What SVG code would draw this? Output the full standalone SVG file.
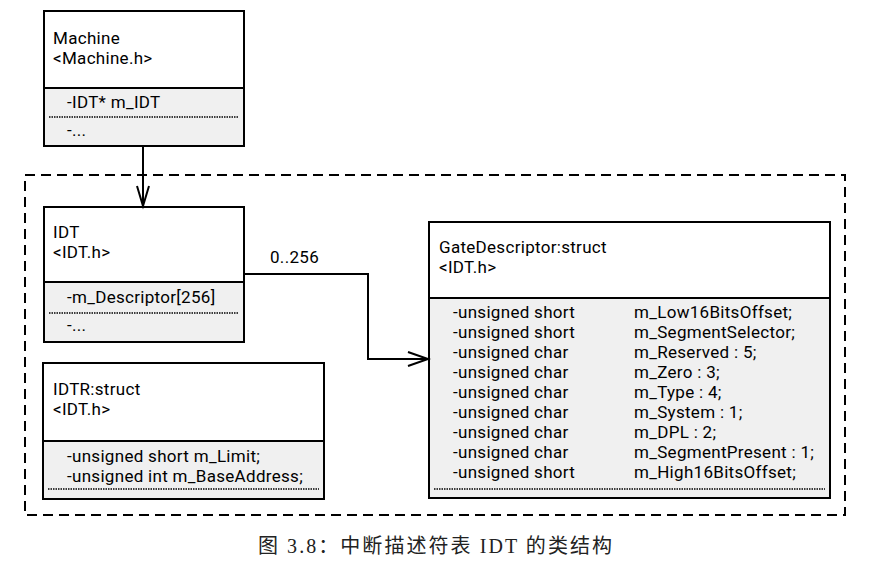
<svg xmlns="http://www.w3.org/2000/svg" width="889" height="568" viewBox="0 0 889 568">
<defs>
<style>
.box{fill:#fff;stroke:#000;stroke-width:2}
.cmp{fill:#f0f0f0;stroke:#000;stroke-width:2}
.dot{stroke:#000;stroke-width:1.5;stroke-dasharray:1.5 1;fill:none}
.t{font-family:Roboto,"Open Sans","DejaVu Sans",sans-serif;font-size:17px;letter-spacing:0.3px;fill:#000}
.cap{font-family:"Liberation Serif","Noto Sans CJK SC",serif;font-size:20px;fill:#222}
.ln{fill:none;stroke:#000;stroke-width:2}
</style>
</defs>
<rect x="0" y="0" width="889" height="568" fill="#fff"/>
<rect id="package" x="25" y="175" width="820" height="340" fill="none" stroke="#000" stroke-width="2" stroke-dasharray="10 6"/>
<g id="machine">
<rect class="box" x="44" y="11" width="200" height="77"/>
<rect class="cmp" x="44" y="88" width="200" height="58"/>
<line class="dot" x1="49" y1="117" x2="239" y2="117"/>
<text class="t" x="53" y="44">Machine</text>
<text class="t" x="53" y="64">&lt;Machine.h&gt;</text>
<text class="t" x="67" y="108">-IDT* m_IDT</text>
<text class="t" x="67" y="136">-...</text>
</g>
<g id="idt">
<rect class="box" x="44" y="207" width="200" height="75"/>
<rect class="cmp" x="44" y="282" width="200" height="60"/>
<line class="dot" x1="49" y1="313" x2="239" y2="313"/>
<text class="t" x="53" y="238">IDT</text>
<text class="t" x="53" y="258">&lt;IDT.h&gt;</text>
<text class="t" x="67" y="303">-m_Descriptor[256]</text>
<text class="t" x="67" y="331">-...</text>
</g>
<g id="idtr">
<rect class="box" x="43" y="363" width="281" height="78"/>
<rect class="cmp" x="43" y="441" width="281" height="58"/>
<line class="dot" x1="48" y1="489" x2="319" y2="489"/>
<text class="t" x="53" y="395">IDTR:struct</text>
<text class="t" x="53" y="415">&lt;IDT.h&gt;</text>
<text class="t" x="67" y="462">-unsigned short m_Limit;</text>
<text class="t" x="67" y="482">-unsigned int m_BaseAddress;</text>
</g>
<g id="gatedescriptor">
<rect class="box" x="429" y="222" width="401" height="76"/>
<rect class="cmp" x="429" y="298" width="401" height="200"/>
<line class="dot" x1="434" y1="489" x2="825" y2="489"/>
<text class="t" x="439" y="253">GateDescriptor:struct</text>
<text class="t" x="439" y="273">&lt;IDT.h&gt;</text>
<text class="t" x="453" y="318">-unsigned short</text>
<text class="t" x="453" y="338">-unsigned short</text>
<text class="t" x="453" y="358">-unsigned char</text>
<text class="t" x="453" y="378">-unsigned char</text>
<text class="t" x="453" y="398">-unsigned char</text>
<text class="t" x="453" y="418">-unsigned char</text>
<text class="t" x="453" y="438">-unsigned char</text>
<text class="t" x="453" y="458">-unsigned char</text>
<text class="t" x="453" y="478">-unsigned short</text>
<text class="t" x="634" y="318">m_Low16BitsOffset;</text>
<text class="t" x="634" y="338">m_SegmentSelector;</text>
<text class="t" x="634" y="358">m_Reserved : 5;</text>
<text class="t" x="634" y="378">m_Zero : 3;</text>
<text class="t" x="634" y="398">m_Type : 4;</text>
<text class="t" x="634" y="418">m_System : 1;</text>
<text class="t" x="634" y="438">m_DPL : 2;</text>
<text class="t" x="634" y="458">m_SegmentPresent : 1;</text>
<text class="t" x="634" y="478">m_High16BitsOffset;</text>
</g>
<g id="connectors">
<path class="ln" d="M143 146 V206"/>
<path class="ln" d="M137 186 L143 206 L149 186"/>
<path class="ln" d="M244 274 H368 V359 H428"/>
<path class="ln" d="M408 352 L428 359 L408 366"/>
<text class="t" x="270" y="263">0..256</text>
</g>
<text class="cap" x="258" y="553" textLength="354" lengthAdjust="spacing">图 3.8：中断描述符表 IDT 的类结构</text>
</svg>
